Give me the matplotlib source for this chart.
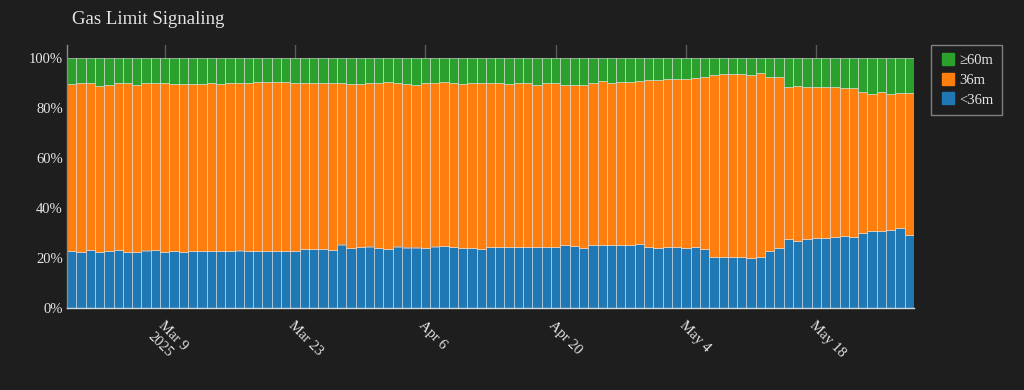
import numpy as np
import pandas as pd
import matplotlib
matplotlib.use("Agg")
import matplotlib.pyplot as plt
from matplotlib.lines import Line2D

plt.rcParams['font.family'] = ['Liberation Serif', 'DejaVu Serif']

# daily buckets, Feb 27 .. May 28 2025
days = pd.date_range('2025-02-27', '2025-05-28', freq='D')

# share of validators signaling < 36m (percent)
below_36m = [
    22.8, 22.5, 23.2, 22.3, 22.9, 23.2, 22.3, 22.5, 23.0, 23.2,
    22.4, 22.8, 22.3, 22.9, 22.9, 22.9, 22.9, 22.9, 23.0, 22.9,
    22.9, 22.9, 22.8, 22.8, 22.8, 23.6, 23.7, 23.7, 23.2, 25.4,
    24.0, 24.5, 24.6, 23.9, 23.5, 24.6, 24.2, 24.2, 24.1, 24.6,
    24.9, 24.5, 24.1, 24.1, 23.6, 24.5, 24.5, 24.5, 24.3, 24.5,
    24.5, 24.5, 24.5, 25.1, 24.9, 23.9, 25.3, 25.3, 25.3, 25.1,
    25.1, 25.6, 24.3, 24.0, 24.5, 24.3, 24.0, 24.5, 23.7, 20.5,
    20.5, 20.5, 20.4, 20.1, 20.5, 22.8, 23.9, 27.6, 26.8, 27.6,
    28.0, 28.1, 28.3, 28.7, 28.5, 30.1, 30.9, 30.9, 31.3, 31.9,
    29.2,
]
# cumulative share up to and including 36m (percent)
upto_36m = [
    89.5, 90.1, 89.9, 88.9, 89.1, 89.9, 90.1, 89.2, 89.8, 89.9,
    90.1, 89.4, 89.7, 89.7, 89.4, 89.8, 89.5, 90.0, 90.0, 90.1,
    90.2, 90.2, 90.3, 90.3, 89.9, 90.1, 90.0, 89.9, 90.0, 89.9,
    89.6, 89.7, 89.9, 90.1, 90.2, 90.1, 89.4, 89.2, 89.9, 90.2,
    90.3, 90.0, 89.6, 90.0, 90.1, 90.1, 90.1, 89.5, 89.8, 89.8,
    89.3, 89.8, 89.8, 89.2, 89.3, 89.3, 89.8, 90.6, 90.1, 90.3,
    90.5, 90.7, 91.2, 91.2, 91.4, 91.4, 91.7, 92.0, 92.3, 93.1,
    93.5, 93.6, 93.5, 93.1, 93.9, 92.3, 92.3, 88.5, 88.9, 88.4,
    88.4, 88.4, 88.4, 88.1, 87.9, 86.5, 85.6, 86.4, 85.6, 85.9,
    85.9,
]

below = np.array(below_36m)
mid = np.array(upto_36m) - below
top = 100 - np.array(upto_36m)

tick_days = ['2025-03-09', '2025-03-23', '2025-04-06', '2025-04-20', '2025-05-04', '2025-05-18']
tick_labels = ['Mar 9\n2025', 'Mar 23', 'Apr 6', 'Apr 20', 'May 4', 'May 18']

bg = '#1e1e1e'
txt = '#e6e6e6'
c_blue, c_orange, c_green = '#1f77b4', '#ff7f0e', '#2ca02c'

fig = plt.figure(figsize=(10.24, 3.9), dpi=100, facecolor=bg)
ax = fig.add_axes([67 / 1024, 1 - 308 / 390, (914 - 67) / 1024, (308 - 45) / 390])
ax.set_facecolor(bg)

edge = (1, 1, 1, 0.5)
ax.bar(days, below, width=1.0, color=c_blue, edgecolor=edge, linewidth=0.7, zorder=2)
ax.bar(days, mid, width=1.0, bottom=below, color=c_orange, edgecolor=edge, linewidth=0.7, zorder=2)
ax.bar(days, top, width=1.0, bottom=below + mid, color=c_green, edgecolor=edge, linewidth=0.7, zorder=2)

ax.set_xlim(days[0] - pd.Timedelta(hours=12), days[-1] + pd.Timedelta(hours=12))
ax.set_ylim(0, 105.2)

ax.set_xticks(pd.to_datetime(tick_days))
ax.set_xticklabels(tick_labels, rotation=-45, ha='left', va='top', rotation_mode='anchor')
ax.set_yticks([0, 20, 40, 60, 80, 100])
ax.set_yticklabels(['0%', '20%', '40%', '60%', '80%', '100%'])
ax.tick_params(axis='both', length=0, colors=txt, labelsize=10.5)
ax.tick_params(axis='y', pad=3)
ax.tick_params(axis='x', pad=8)

ax.grid(axis='x', color='#5a5a5a', linewidth=1.0, zorder=0)
ax.set_axisbelow(True)

for side in ['top', 'right']:
    ax.spines[side].set_visible(False)
ax.spines['left'].set_color('#8a8a8a')
ax.spines['bottom'].set_color('#cfd8e0')
ax.spines['left'].set_linewidth(1.0)
ax.spines['bottom'].set_linewidth(1.0)

fig.text(72 / 1024, 1 - 20 / 390, 'Gas Limit Signaling', color=txt, fontsize=13.5,
         ha='left', va='center')

handles = [
    Line2D([], [], marker='s', linestyle='none', markersize=9, color=c, markeredgecolor=c)
    for c in (c_green, c_orange, c_blue)
]
leg = fig.legend(handles, ['≥60m', '36m', '<36m'], loc='upper left',
                 bbox_to_anchor=(931 / 1024, 1 - 45 / 390), borderaxespad=0, frameon=True,
                 fontsize=10.5, labelcolor=txt, handletextpad=0.25, borderpad=0.6,
                 labelspacing=0.45, handlelength=1.1, fancybox=False)
leg.get_frame().set_facecolor(bg)
leg.get_frame().set_edgecolor('#9a9a9a')
leg.get_frame().set_linewidth(1.0)

fig.savefig('out.png', dpi=100, facecolor=bg)
